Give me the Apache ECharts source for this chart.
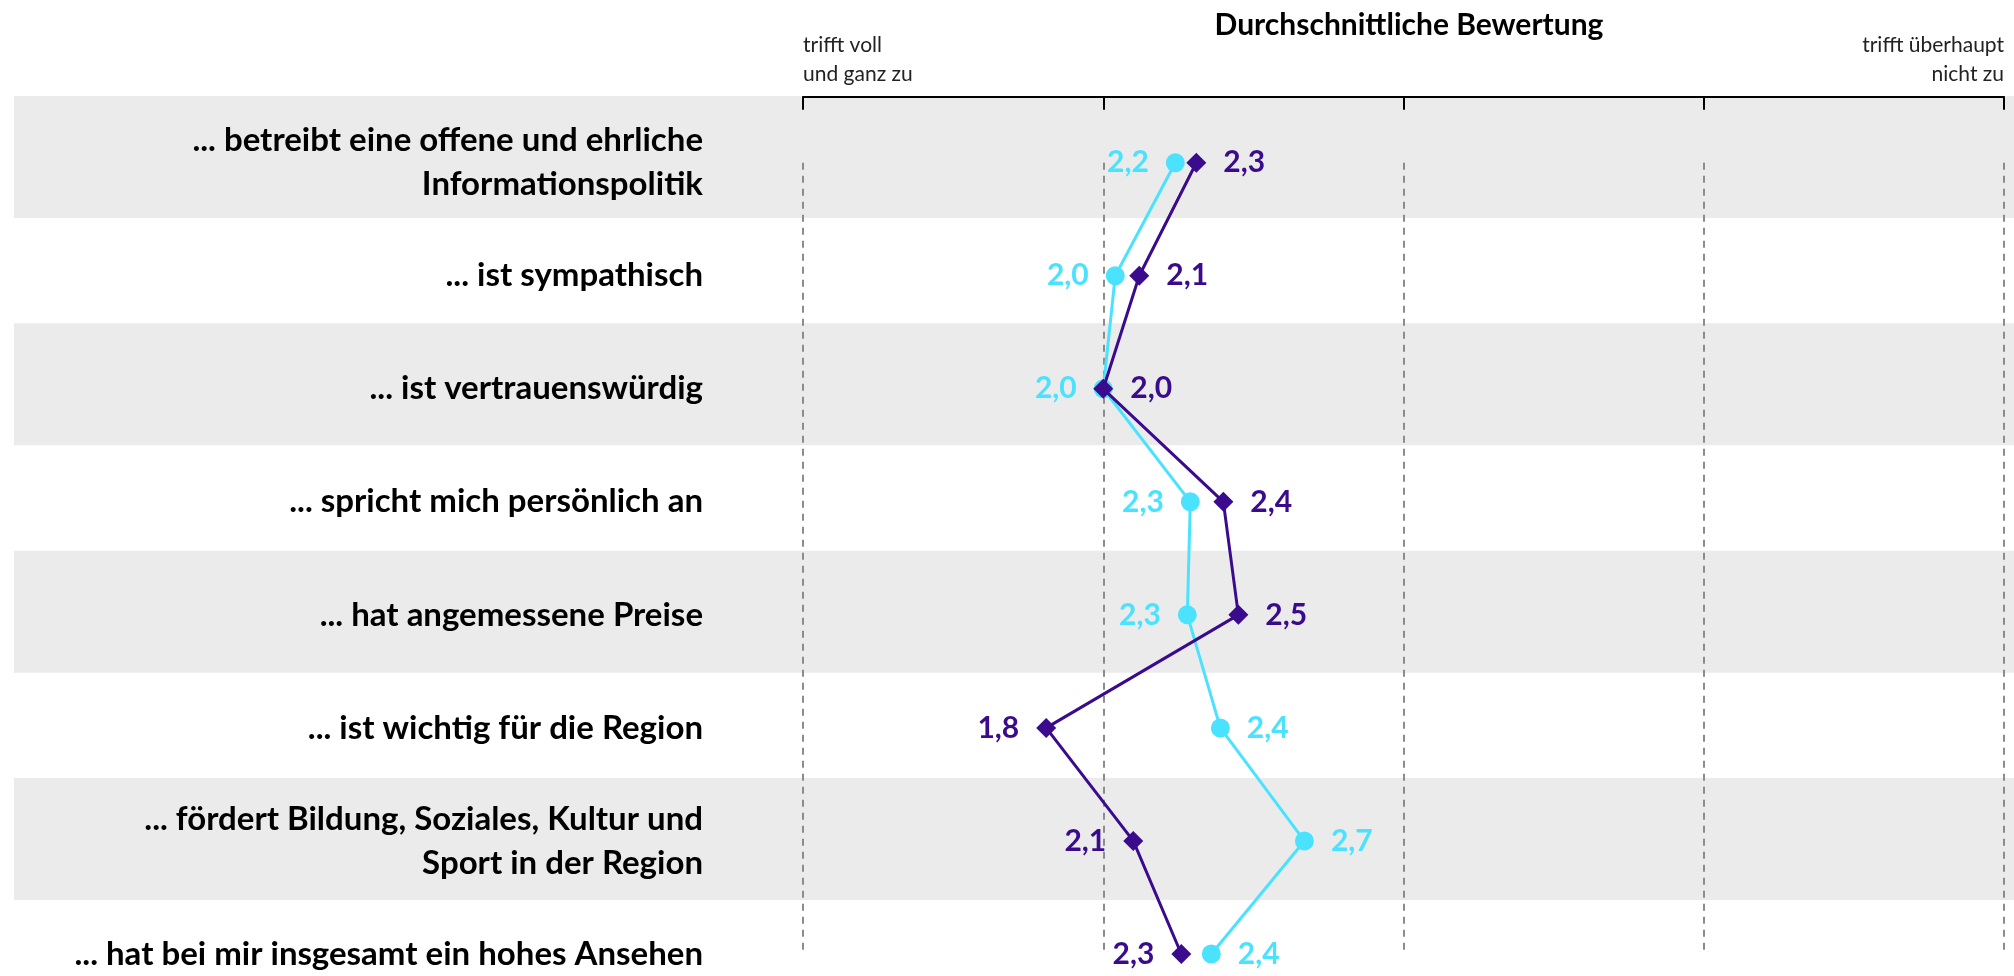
<!DOCTYPE html>
<html>
<head>
<meta charset="utf-8">
<script src="https://cdn.jsdelivr.net/npm/echarts@6/dist/echarts.min.js"></script>
<style>
  html, body { margin: 0; padding: 0; background: #fff; }
  #chart { width: 2014px; height: 976px; }
</style>
</head>
<body>
<div id="chart"></div>
<script>
// Aussagen (y-Achse, von oben nach unten)
const categories = [
  "... betreibt eine offene und ehrliche\nInformationspolitik",
  "... ist sympathisch",
  "... ist vertrauenswürdig",
  "... spricht mich persönlich an",
  "... hat angemessene Preise",
  "... ist wichtig für die Region",
  "... fördert Bildung, Soziales, Kultur und\nSport in der Region",
  "... hat bei mir insgesamt ein hohes Ansehen",
];

// Durchschnittswerte (1 = trifft voll und ganz zu, 5 = trifft überhaupt nicht zu)
const cyanValues = [2.24, 2.04, 2.0, 2.29, 2.28, 2.39, 2.67, 2.36];
const purpleValues = [2.31, 2.12, 2.0, 2.4, 2.45, 1.81, 2.1, 2.26];

// Skala
const scaleMin = 1;
const scaleMax = 5;
const minLabel = "trifft voll\nund ganz zu";
const maxLabel = "trifft überhaupt\nnicht zu";

const CYAN = "#4be2ff";
const PURPLE = "#3a0b8c";
const FONT = "Lato, 'Open Sans', sans-serif";

const chart = echarts.init(document.getElementById("chart"));

const fmt = (v) => v.toFixed(1).replace(".", ",");

// kleinerer Wert bekommt das Label links
function lineData(values, others, leftOnTie) {
  return values.map((v, i) => {
    const left = v < others[i] || (v === others[i] && leftOnTie);
    return { value: v, label: { position: left ? "left" : "right" } };
  });
}

const option = {
  animation: false,
  title: {
    text: "Durchschnittliche Bewertung",
    left: 1404,
    top: 5,
    textAlign: "center",
    textStyle: { fontFamily: FONT, fontSize: 30, fontWeight: "bold", color: "#000" },
  },
  grid: [
    { left: 803, right: 10, top: 162.7, bottom: 17.7 },
    // graue Streifen
    { left: 14, right: 0, top: 157, bottom: 23.4 },
  ],
  xAxis: [
    {
      type: "value",
      gridIndex: 0,
      min: scaleMin,
      max: scaleMax,
      interval: 1,
      position: "top",
      offset: 66,
      axisLine: { show: true, lineStyle: { color: "#000", width: 2 } },
      axisTick: { show: true, inside: true, length: 13, lineStyle: { color: "#000", width: 2 } },
      axisLabel: {
        fontFamily: FONT,
        fontSize: 21,
        lineHeight: 29,
        color: "#222",
        margin: 8,
        alignMinLabel: "left",
        alignMaxLabel: "right",
        formatter: (v) => (v === scaleMin ? minLabel : v === scaleMax ? maxLabel : ""),
      },
      splitLine: { show: true, lineStyle: { color: "#8c8c8c", width: 2, type: [7, 6] } },
    },
    { type: "value", gridIndex: 1, min: 0, max: 1, show: false },
  ],
  yAxis: [
    {
      type: "category",
      gridIndex: 0,
      data: categories,
      inverse: true,
      boundaryGap: false,
      axisLine: { show: false },
      axisTick: { show: false },
      splitLine: { show: false },
      axisLabel: {
        fontFamily: FONT,
        fontSize: 33,
        fontWeight: "bold",
        lineHeight: 44,
        color: "#000",
        margin: 100,
        align: "right",
      },
    },
    {
      type: "category",
      gridIndex: 1,
      data: categories,
      inverse: true,
      boundaryGap: false,
      show: false,
    },
  ],
  series: [
    {
      type: "bar",
      xAxisIndex: 1,
      yAxisIndex: 1,
      data: categories.map((c, i) => (i % 2 === 0 ? 1 : "-")),
      barWidth: 122,
      clip: false,
      silent: true,
      z: -10,
      itemStyle: { color: "#ebebeb" },
    },
    {
      name: "Gruppe A",
      type: "line",
      data: lineData(cyanValues, purpleValues, true),
      symbol: "circle",
      symbolSize: 19,
      color: CYAN,
      lineStyle: { color: CYAN, width: 3 },
      itemStyle: { color: CYAN },
      label: {
        show: true,
        distance: 17,
        formatter: (p) => fmt(p.value),
        fontFamily: FONT,
        fontSize: 30,
        fontWeight: "bold",
        color: CYAN,
      },
      z: 3,
    },
    {
      name: "Gruppe B",
      type: "line",
      data: lineData(purpleValues, cyanValues, false),
      symbol: "diamond",
      symbolSize: 20,
      color: PURPLE,
      lineStyle: { color: PURPLE, width: 3 },
      itemStyle: { color: PURPLE },
      label: {
        show: true,
        distance: 17,
        formatter: (p) => fmt(p.value),
        fontFamily: FONT,
        fontSize: 30,
        fontWeight: "bold",
        color: PURPLE,
      },
      z: 4,
    },
  ],
};

chart.setOption(option);
</script>
</body>
</html>
